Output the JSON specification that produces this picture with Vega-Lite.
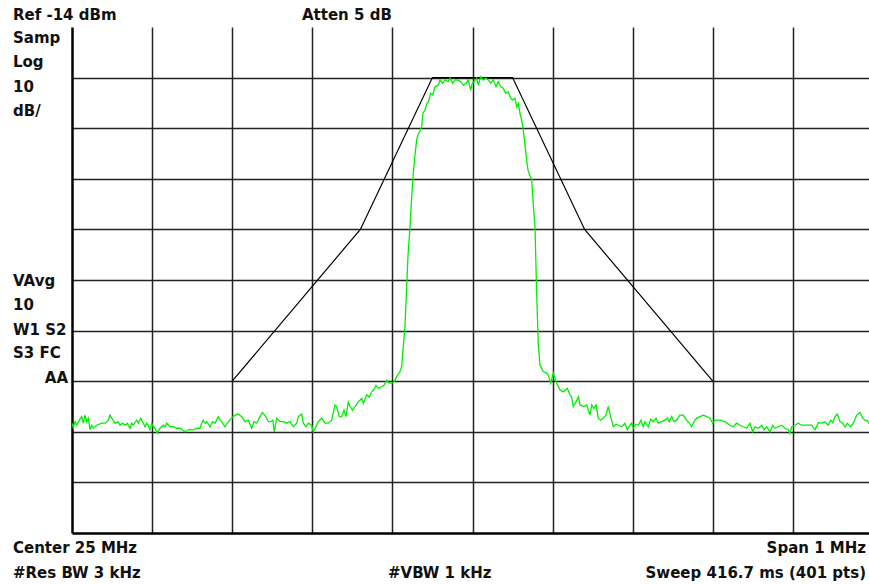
{
  "$schema": "https://vega.github.io/schema/vega-lite/v6.json",
  "width": 797,
  "height": 506,
  "autosize": {"type": "none"},
  "padding": {"left": 72, "top": 27, "right": 0, "bottom": 51},
  "background": "white",
  "config": {"view": {"stroke": null}},
  "datasets": {
    "trace": [
      {"f":24.5,"p":-92.3},{"f":24.5016,"p":-93.2},{"f":24.5037,"p":-92.0},{"f":24.5059,"p":-92.7},{"f":24.5091,"p":-91.7},{"f":24.5121,"p":-91.0},{"f":24.5141,"p":-92.3},{"f":24.5162,"p":-90.7},{"f":24.5184,"p":-92.0},{"f":24.5203,"p":-91.3},{"f":24.5225,"p":-93.6},{"f":24.5246,"p":-92.7},{"f":24.5266,"p":-93.3},{"f":24.5308,"p":-92.7},{"f":24.5371,"p":-92.3},{"f":24.5412,"p":-92.3},{"f":24.5453,"p":-91.7},{"f":24.5474,"p":-90.7},{"f":24.5496,"p":-91.3},{"f":24.5537,"p":-92.3},{"f":24.5578,"p":-92.0},{"f":24.5599,"p":-92.7},{"f":24.5633,"p":-92.3},{"f":24.5662,"p":-92.7},{"f":24.569,"p":-92.3},{"f":24.5724,"p":-93.3},{"f":24.5745,"p":-92.3},{"f":24.5765,"p":-92.7},{"f":24.5808,"p":-91.7},{"f":24.5828,"p":-92.3},{"f":24.5858,"p":-91.3},{"f":24.589,"p":-92.3},{"f":24.5911,"p":-93.0},{"f":24.5933,"p":-92.3},{"f":24.5953,"p":-92.7},{"f":24.5974,"p":-93.6},{"f":24.5995,"p":-92.3},{"f":24.6015,"p":-93.0},{"f":24.6036,"p":-93.3},{"f":24.6065,"p":-94.3},{"f":24.6099,"p":-93.3},{"f":24.614,"p":-92.7},{"f":24.6161,"p":-93.0},{"f":24.6182,"p":-92.3},{"f":24.6223,"p":-93.0},{"f":24.6265,"p":-93.0},{"f":24.6307,"p":-93.3},{"f":24.6348,"p":-93.3},{"f":24.6411,"p":-94.0},{"f":24.6452,"p":-93.6},{"f":24.6514,"p":-93.6},{"f":24.6557,"p":-93.3},{"f":24.6598,"p":-93.3},{"f":24.6619,"p":-92.3},{"f":24.6639,"p":-91.7},{"f":24.666,"p":-92.3},{"f":24.6682,"p":-92.0},{"f":24.6723,"p":-93.0},{"f":24.6756,"p":-92.0},{"f":24.6785,"p":-92.3},{"f":24.6826,"p":-91.0},{"f":24.6848,"p":-91.7},{"f":24.6869,"p":-92.0},{"f":24.691,"p":-93.0},{"f":24.6951,"p":-92.0},{"f":24.6994,"p":-91.3},
      {"f":24.7035,"p":-90.7},{"f":24.7076,"p":-90.5},{"f":24.7119,"p":-91.0},{"f":24.716,"p":-92.0},{"f":24.7201,"p":-91.7},{"f":24.7243,"p":-93.3},{"f":24.7272,"p":-92.0},{"f":24.7306,"p":-92.3},{"f":24.7347,"p":-91.0},{"f":24.7376,"p":-90.2},{"f":24.7409,"p":-90.7},{"f":24.7451,"p":-92.0},{"f":24.7481,"p":-92.0},{"f":24.7506,"p":-91.7},{"f":24.7526,"p":-94.0},{"f":24.7555,"p":-91.3},{"f":24.7597,"p":-92.0},{"f":24.7638,"p":-92.0},{"f":24.768,"p":-92.3},{"f":24.7721,"p":-92.0},{"f":24.7763,"p":-93.0},{"f":24.7805,"p":-92.3},{"f":24.7825,"p":-91.0},{"f":24.7868,"p":-90.5},{"f":24.7888,"p":-92.3},{"f":24.7921,"p":-93.0},{"f":24.795,"p":-92.3},{"f":24.7992,"p":-92.7},{"f":24.8012,"p":-94.0},{"f":24.8046,"p":-93.0},{"f":24.8075,"p":-92.0},{"f":24.8117,"p":-91.3},{"f":24.8158,"p":-92.3},{"f":24.82,"p":-92.3},{"f":24.8242,"p":-91.7},{"f":24.8283,"p":-88.7},{"f":24.8304,"p":-89.0},{"f":24.8337,"p":-91.0},{"f":24.8367,"p":-91.0},{"f":24.8396,"p":-89.7},{"f":24.8421,"p":-91.0},{"f":24.8449,"p":-88.1},{"f":24.8471,"p":-89.0},{"f":24.8504,"p":-89.7},{"f":24.8533,"p":-89.0},{"f":24.8574,"p":-88.1},{"f":24.8617,"p":-87.4},{"f":24.8637,"p":-88.4},{"f":24.8679,"p":-86.7},{"f":24.8712,"p":-87.1},{"f":24.8741,"p":-86.1},{"f":24.877,"p":-85.7},{"f":24.8795,"p":-84.8},{"f":24.8824,"p":-85.4},{"f":24.8866,"p":-85.1},{"f":24.8895,"p":-84.8},{"f":24.8929,"p":-83.8},{"f":24.8961,"p":-84.4},{"f":24.8991,"p":-84.4},{"f":24.902,"p":-84.1},{"f":24.9053,"p":-83.1},{"f":24.9095,"p":-82.1},
      {"f":24.9116,"p":-81.1},{"f":24.9132,"p":-77.8},{"f":24.9157,"p":-73.3},{"f":24.9178,"p":-65.3},{"f":24.9195,"p":-59.1},{"f":24.922,"p":-53.5},{"f":24.9238,"p":-48.2},{"f":24.9261,"p":-42.9},{"f":24.9282,"p":-39.3},{"f":24.9303,"p":-36.3},{"f":24.9319,"p":-35.3},{"f":24.9344,"p":-34.6},{"f":24.9366,"p":-33.6},{"f":24.9382,"p":-31.0},{"f":24.9407,"p":-30.4},{"f":24.9428,"p":-29.2},{"f":24.9448,"p":-28.8},{"f":24.9478,"p":-27.1},{"f":24.9503,"p":-27.4},{"f":24.9532,"p":-25.8},{"f":24.9573,"p":-25.5},{"f":24.9594,"p":-24.5},{"f":24.9628,"p":-25.1},{"f":24.9657,"p":-24.5},{"f":24.9698,"p":-24.8},{"f":24.9719,"p":-24.1},{"f":24.9753,"p":-25.1},{"f":24.9781,"p":-24.5},{"f":24.9823,"p":-24.5},{"f":24.9852,"p":-24.8},{"f":24.9885,"p":-25.5},{"f":24.9919,"p":-25.1},{"f":24.9947,"p":-24.5},{"f":24.9977,"p":-26.5},{"f":24.9997,"p":-25.1},{"f":25.0022,"p":-24.8},{"f":25.0052,"p":-24.1},{"f":25.0072,"p":-25.5},{"f":25.0102,"p":-23.8},{"f":25.0135,"p":-24.5},{"f":25.0168,"p":-24.1},{"f":25.0197,"p":-24.5},{"f":25.0227,"p":-25.1},{"f":25.026,"p":-24.5},{"f":25.0293,"p":-25.8},{"f":25.0322,"p":-24.8},{"f":25.0352,"p":-25.8},{"f":25.0384,"p":-26.1},{"f":25.0414,"p":-27.1},{"f":25.0447,"p":-26.8},{"f":25.0477,"p":-28.1},{"f":25.0502,"p":-28.4},{"f":25.053,"p":-28.1},{"f":25.0552,"p":-29.8},{"f":25.0572,"p":-29.1},{"f":25.0593,"p":-31.1},{"f":25.0614,"p":-32.4},{"f":25.0634,"p":-34.4},{"f":25.0655,"p":-37.3},{"f":25.0676,"p":-40.3},{"f":25.0693,"p":-42.3},{"f":25.0718,"p":-43.4},{"f":25.0739,"p":-44.2},{"f":25.0755,"p":-48.2},{"f":25.078,"p":-53.5},{"f":25.0801,"p":-66.6},{"f":25.0821,"p":-76.5},{"f":25.0842,"p":-80.8},
      {"f":25.0884,"p":-82.1},{"f":25.0926,"p":-82.4},{"f":25.0946,"p":-82.8},{"f":25.0976,"p":-84.4},{"f":25.1009,"p":-82.4},{"f":25.1051,"p":-84.4},{"f":25.1092,"p":-85.7},{"f":25.1133,"p":-86.1},{"f":25.1183,"p":-85.4},{"f":25.1217,"p":-86.7},{"f":25.1238,"p":-87.1},{"f":25.1258,"p":-89.0},{"f":25.1292,"p":-88.1},{"f":25.1321,"p":-87.1},{"f":25.1342,"p":-88.7},{"f":25.1392,"p":-89.0},{"f":25.1425,"p":-88.7},{"f":25.1446,"p":-89.7},{"f":25.1467,"p":-90.7},{"f":25.1488,"p":-88.7},{"f":25.1517,"p":-89.4},{"f":25.1542,"p":-88.7},{"f":25.157,"p":-91.3},{"f":25.16,"p":-91.7},{"f":25.1633,"p":-91.3},{"f":25.1666,"p":-90.7},{"f":25.1695,"p":-89.0},{"f":25.1725,"p":-91.0},{"f":25.1758,"p":-93.0},{"f":25.1791,"p":-92.5},{"f":25.182,"p":-92.7},{"f":25.1862,"p":-93.0},{"f":25.1904,"p":-92.3},{"f":25.1932,"p":-93.6},{"f":25.1966,"p":-92.7},{"f":25.1987,"p":-92.3},{"f":25.2007,"p":-93.3},{"f":25.2041,"p":-92.5},{"f":25.207,"p":-92.7},{"f":25.2103,"p":-91.7},{"f":25.2132,"p":-93.0},{"f":25.2153,"p":-92.0},{"f":25.2195,"p":-93.0},{"f":25.2225,"p":-91.5},{"f":25.2257,"p":-92.0},{"f":25.2291,"p":-91.3},{"f":25.2319,"p":-92.3},{"f":25.2362,"p":-92.0},{"f":25.2403,"p":-91.7},{"f":25.2432,"p":-91.3},{"f":25.2457,"p":-92.0},{"f":25.2487,"p":-91.0},{"f":25.2515,"p":-92.0},{"f":25.2549,"p":-91.7},{"f":25.259,"p":-90.7},{"f":25.2631,"p":-90.7},{"f":25.2674,"p":-91.7},{"f":25.2706,"p":-92.3},{"f":25.2736,"p":-93.0},{"f":25.2765,"p":-92.0},{"f":25.2799,"p":-91.3},{"f":25.284,"p":-91.0},{"f":25.2881,"p":-90.7},{"f":25.2924,"p":-91.0},{"f":25.2965,"p":-91.3},{"f":25.2998,"p":-92.3},
      {"f":25.3027,"p":-91.7},{"f":25.309,"p":-91.7},{"f":25.3152,"p":-92.0},{"f":25.3214,"p":-92.7},{"f":25.3256,"p":-93.0},{"f":25.3298,"p":-92.3},{"f":25.3339,"p":-92.7},{"f":25.3381,"p":-93.0},{"f":25.3423,"p":-93.3},{"f":25.3464,"p":-92.3},{"f":25.3498,"p":-94.0},{"f":25.3527,"p":-93.0},{"f":25.3568,"p":-93.3},{"f":25.361,"p":-92.7},{"f":25.3639,"p":-93.6},{"f":25.3673,"p":-93.0},{"f":25.3714,"p":-94.0},{"f":25.3747,"p":-92.7},{"f":25.3776,"p":-93.3},{"f":25.3817,"p":-93.0},{"f":25.386,"p":-92.7},{"f":25.3901,"p":-93.3},{"f":25.3942,"p":-93.6},{"f":25.3963,"p":-94.3},{"f":25.3985,"p":-93.0},{"f":25.4026,"p":-92.7},{"f":25.4067,"p":-92.3},{"f":25.4109,"p":-92.7},{"f":25.4172,"p":-92.7},{"f":25.4234,"p":-92.7},{"f":25.4276,"p":-93.6},{"f":25.4317,"p":-92.2},{"f":25.4359,"p":-92.3},{"f":25.44,"p":-92.0},{"f":25.4442,"p":-92.7},{"f":25.4472,"p":-91.7},{"f":25.4497,"p":-92.2},{"f":25.4525,"p":-91.0},{"f":25.4554,"p":-90.5},{"f":25.4588,"p":-92.0},{"f":25.4621,"p":-92.3},{"f":25.465,"p":-93.0},{"f":25.4679,"p":-92.3},{"f":25.4721,"p":-93.0},{"f":25.4754,"p":-92.3},{"f":25.4796,"p":-90.7},{"f":25.4837,"p":-90.2},{"f":25.4871,"p":-91.3},{"f":25.49,"p":-91.7},{"f":25.4929,"p":-91.8},{"f":25.495,"p":-92.3},{"f":25.5,"p":-92.0}
    ],
    "mask": [
      {"f":24.7,"p":-84},{"f":24.86,"p":-54},{"f":24.95,"p":-24},{"f":25.05,"p":-24},{"f":25.14,"p":-54},{"f":25.3,"p":-84}
    ],
    "notesLeft": [
      {"t":"Ref -14 dBm","f":24.4263,"p":-12.62},
      {"t":"Atten 5 dB","f":24.7871,"p":-12.62},
      {"t":"Samp","f":24.4263,"p":-17.22},
      {"t":"Log","f":24.4263,"p":-21.85},
      {"t":"10","f":24.4263,"p":-26.79},
      {"t":"dB/","f":24.4263,"p":-31.59},
      {"t":"VAvg","f":24.4263,"p":-65.19},
      {"t":"10","f":24.4263,"p":-69.93},
      {"t":"W1  S2","f":24.4263,"p":-74.87},
      {"t":"S3  FC","f":24.4263,"p":-79.51},
      {"t":"Center 25 MHz","f":24.4263,"p":-118.05},
      {"t":"#Res BW 3 kHz","f":24.4263,"p":-122.99},
      {"t":"#VBW 1 kHz","f":24.8945,"p":-122.99}
    ],
    "notesRight": [
      {"t":"AA","f":24.495,"p":-84.3},
      {"t":"Span 1 MHz","f":25.4913,"p":-118.05},
      {"t":"Sweep 416.7 ms (401 pts)","f":25.4913,"p":-122.99}
    ]
  },
  "layer": [
    {
      "data": {"name": "mask"},
      "mark": {"type": "line", "color": "black", "strokeWidth": 1.2, "clip": true},
      "encoding": {
        "x": {"field": "f", "type": "quantitative", "scale": {"domain": [24.5, 25.495], "nice": false, "zero": false},
          "axis": {"values": [24.6, 24.7, 24.8, 24.9, 25.0, 25.1, 25.2, 25.3, 25.4], "labels": false, "ticks": false, "title": null, "grid": true, "gridColor": "#222222", "gridWidth": 1.5, "gridOpacity": 1, "domainColor": "black", "domainWidth": 2.5}},
        "y": {"field": "p", "type": "quantitative", "scale": {"domain": [-114, -14], "nice": false, "zero": false},
          "axis": {"values": [-104, -94, -84, -74, -64, -54, -44, -34, -24], "labels": false, "ticks": false, "title": null, "grid": true, "gridColor": "#222222", "gridWidth": 1.5, "gridOpacity": 1, "domainColor": "black", "domainWidth": 2.5}}
      }
    },
    {
      "data": {"name": "trace"},
      "mark": {"type": "line", "color": "#00ee00", "strokeWidth": 1.3, "clip": true},
      "encoding": {
        "x": {"field": "f", "type": "quantitative"},
        "y": {"field": "p", "type": "quantitative"}
      }
    },
    {
      "mark": {"type": "rule", "color": "black", "strokeWidth": 2.5},
      "encoding": {"y": {"datum": -14}}
    },
    {
      "data": {"name": "notesLeft"},
      "mark": {"type": "text", "align": "left", "baseline": "alphabetic", "font": "DejaVu Sans", "fontWeight": "bold", "fontSize": 15, "color": "#111111"},
      "encoding": {
        "x": {"field": "f", "type": "quantitative"},
        "y": {"field": "p", "type": "quantitative"},
        "text": {"field": "t"}
      }
    },
    {
      "data": {"name": "notesRight"},
      "mark": {"type": "text", "align": "right", "baseline": "alphabetic", "font": "DejaVu Sans", "fontWeight": "bold", "fontSize": 15, "color": "#111111"},
      "encoding": {
        "x": {"field": "f", "type": "quantitative"},
        "y": {"field": "p", "type": "quantitative"},
        "text": {"field": "t"}
      }
    }
  ]
}
